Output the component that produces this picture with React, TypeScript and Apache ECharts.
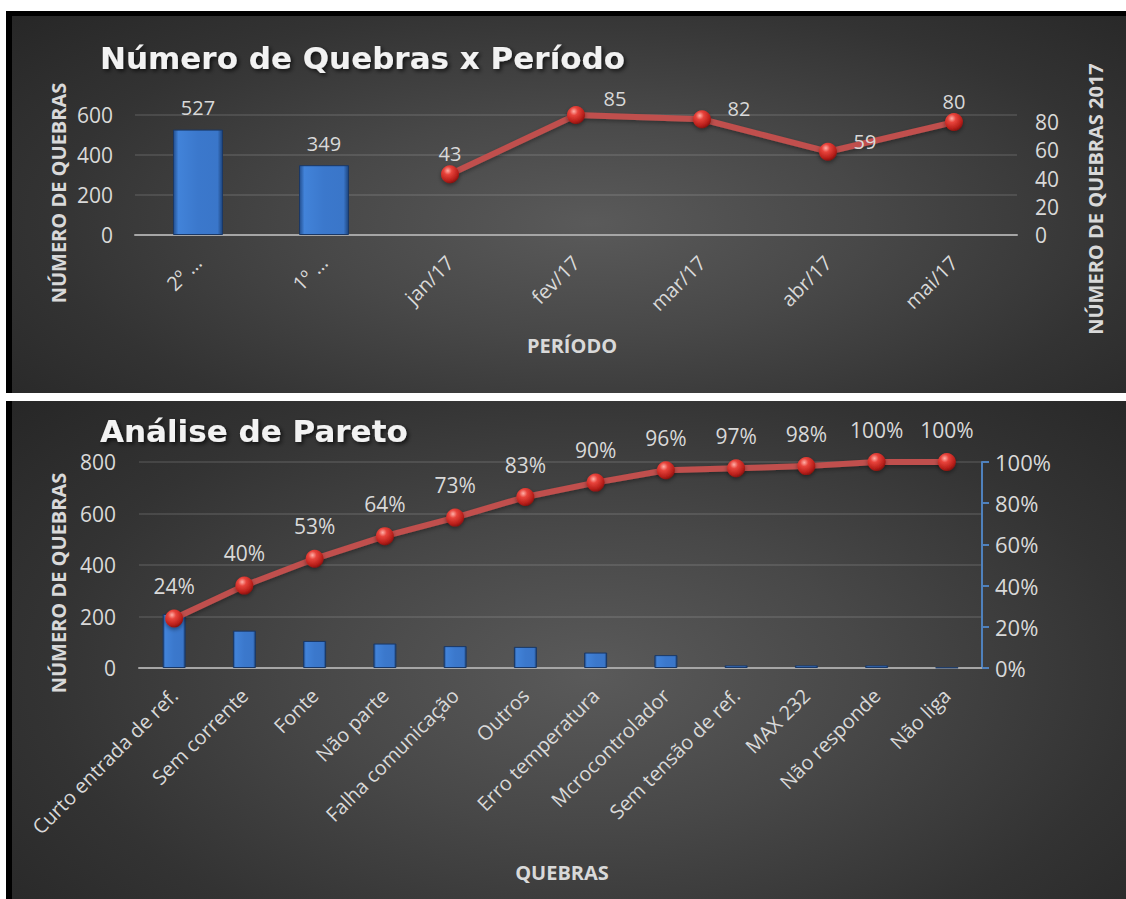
import React, { useEffect, useRef } from 'react';
import * as echarts from 'echarts';

// ---------- DATA ----------
const periodCategories = ['2º …', '1º …', 'jan/17', 'fev/17', 'mar/17', 'abr/17', 'mai/17'];
const semesterBreaks = [527, 349, null, null, null, null, null];
const monthlyBreaks2017 = [null, null, 43, 85, 82, 59, 80];

const paretoCategories = [
  'Curto entrada de ref.',
  'Sem corrente',
  'Fonte',
  'Não parte',
  'Falha comunicação',
  'Outros',
  'Erro temperatura',
  'Mcrocontrolador',
  'Sem tensão de ref.',
  'MAX 232',
  'Não responde',
  'Não liga',
];
const paretoCounts = [210, 145, 105, 95, 85, 82, 60, 50, 10, 10, 10, 2];
const paretoCumulativePct = [24, 40, 53, 64, 73, 83, 90, 96, 97, 98, 100, 100];

const titleTop = 'Número de Quebras x Período';
const titleBottom = 'Análise de Pareto';
const axisNameCount = 'NÚMERO DE QUEBRAS';
const axisNameCount2017 = 'NÚMERO DE QUEBRAS 2017';
const axisNamePeriod = 'PERÍODO';
const axisNameBreaks = 'QUEBRAS';

// ---------- STYLE ----------
const FONT = '"Open Sans", "Noto Sans", sans-serif';
const TITLE_FONT = '"DejaVu Sans", "Open Sans", sans-serif';
const LABEL_COLOR = '#d9d9d9';
const GRID_LINE = 'rgba(255,255,255,0.14)';

const barGradient = {
  type: 'linear', x: 0, y: 0, x2: 1, y2: 0,
  colorStops: [
    { offset: 0, color: '#234f8f' },
    { offset: 0.1, color: '#4283d9' },
    { offset: 0.5, color: '#3b78cc' },
    { offset: 0.9, color: '#3a76c9' },
    { offset: 1, color: '#1d447c' },
  ],
};
const sphere = {
  type: 'radial', x: 0.38, y: 0.3, r: 0.75,
  colorStops: [
    { offset: 0, color: '#ffb0a8' },
    { offset: 0.3, color: '#e8433b' },
    { offset: 0.75, color: '#b81f1a' },
    { offset: 1, color: '#7a0f0c' },
  ],
};

// label offsets for monthly points (style only)
const monthLabelOffsets: Record<number, number[]> = {
  3: [39, 4],
  4: [37, 10],
  5: [37, 11],
};

function axisTitle(text: string, x: number, y: number, rotate: boolean) {
  return {
    type: 'text',
    x,
    y,
    rotation: rotate ? Math.PI / 2 : 0,
    style: {
      text,
      fill: LABEL_COLOR,
      font: `bold 20px ${FONT}`,
      align: 'center',
      verticalAlign: 'middle',
    },
  };
}

function chartTitle(text: string, x: number, y: number) {
  return {
    type: 'text',
    x,
    y,
    style: {
      text,
      fill: '#f2f2f2',
      font: `bold 31px ${TITLE_FONT}`,
      align: 'left',
      verticalAlign: 'middle',
      textShadowColor: 'rgba(0,0,0,0.7)',
      textShadowBlur: 4,
      textShadowOffsetX: 2,
      textShadowOffsetY: 2,
    } as any,
  };
}

export default function App() {
  const ref = useRef<HTMLDivElement>(null);

  useEffect(() => {
    if (!ref.current) return;
    const chart = echarts.init(ref.current, undefined, { renderer: 'svg' });

    const xLabel = { rotate: 45, color: LABEL_COLOR, fontSize: 20, margin: 24, fontFamily: FONT, interval: 0 };

    const option: any = {
      animation: false,
      backgroundColor: 'transparent',
      textStyle: { fontFamily: FONT },
      grid: [
        { left: 135, top: 115, width: 882, height: 120 },
        { left: 139, top: 462, width: 843, height: 206 },
      ],
      xAxis: [
        {
          type: 'category',
          gridIndex: 0,
          data: periodCategories,
          axisLine: { lineStyle: { color: '#a6a6a6', width: 2 } },
          axisTick: { show: false },
          axisLabel: xLabel,
        },
        {
          type: 'category',
          gridIndex: 1,
          data: paretoCategories,
          axisLine: { lineStyle: { color: '#a6a6a6', width: 2 } },
          axisTick: { show: false },
          axisLabel: xLabel,
        },
      ],
      yAxis: [
        {
          type: 'value',
          gridIndex: 0,
          min: 0,
          max: 600,
          interval: 200,
          axisLine: { show: false },
          axisTick: { show: false },
          axisLabel: { color: LABEL_COLOR, fontSize: 21, margin: 22, fontFamily: FONT },
          splitLine: { lineStyle: { color: GRID_LINE, width: 1.5 } },
        },
        {
          type: 'value',
          gridIndex: 0,
          min: 0,
          max: 85,
          interval: 20,
          position: 'right',
          axisLine: { show: false },
          axisTick: { show: false },
          axisLabel: {
            color: LABEL_COLOR,
            fontSize: 21,
            margin: 18,
            fontFamily: FONT,
            formatter: (v: number) => (v % 20 === 0 ? String(v) : ''),
          },
          splitLine: { show: false },
        },
        {
          type: 'value',
          gridIndex: 1,
          min: 0,
          max: 800,
          interval: 200,
          axisLine: { show: false },
          axisTick: { show: false },
          axisLabel: { color: LABEL_COLOR, fontSize: 21, margin: 23, fontFamily: FONT },
          splitLine: { lineStyle: { color: GRID_LINE, width: 1.5 } },
        },
        {
          type: 'value',
          gridIndex: 1,
          min: 0,
          max: 100,
          interval: 20,
          position: 'right',
          axisLine: { show: true, lineStyle: { color: '#4f81bd', width: 2 } },
          axisTick: { show: true, length: 7, lineStyle: { color: '#4f81bd', width: 2 } },
          axisLabel: { color: LABEL_COLOR, fontSize: 22, margin: 13, fontFamily: FONT, formatter: '{value}%' },
          splitLine: { show: false },
        },
      ],
      series: [
        {
          type: 'bar',
          xAxisIndex: 0,
          yAxisIndex: 0,
          data: semesterBreaks,
          barWidth: 50,
          itemStyle: { color: barGradient, borderColor: '#1a3866', borderWidth: 1 },
          label: { show: true, position: 'top', distance: 12, color: LABEL_COLOR, fontSize: 20, fontFamily: FONT },
        },
        {
          type: 'line',
          xAxisIndex: 0,
          yAxisIndex: 1,
          data: monthlyBreaks2017.map((v, i) =>
            v == null
              ? null
              : {
                  value: v,
                  label: monthLabelOffsets[i] ? { offset: monthLabelOffsets[i] } : undefined,
                }
          ),
          symbol: 'circle',
          symbolSize: 18,
          lineStyle: { color: '#c0504d', width: 6, shadowColor: 'rgba(0,0,0,0.35)', shadowBlur: 4, shadowOffsetY: 2 },
          itemStyle: { color: sphere, shadowColor: 'rgba(0,0,0,0.4)', shadowBlur: 4, shadowOffsetY: 2 },
          label: { show: true, position: 'top', distance: 2, color: LABEL_COLOR, fontSize: 20, fontFamily: FONT },
          z: 3,
        },
        {
          type: 'bar',
          xAxisIndex: 1,
          yAxisIndex: 2,
          data: paretoCounts,
          barWidth: 23,
          itemStyle: { color: barGradient, borderColor: '#1a3866', borderWidth: 1 },
        },
        {
          type: 'line',
          xAxisIndex: 1,
          yAxisIndex: 3,
          data: paretoCumulativePct,
          symbol: 'circle',
          symbolSize: 18,
          lineStyle: { color: '#c0504d', width: 6, shadowColor: 'rgba(0,0,0,0.35)', shadowBlur: 4, shadowOffsetY: 2 },
          itemStyle: { color: sphere, shadowColor: 'rgba(0,0,0,0.4)', shadowBlur: 4, shadowOffsetY: 2 },
          label: { show: true, position: 'top', distance: 13, color: LABEL_COLOR, fontSize: 21, fontFamily: FONT, formatter: '{c}%' },
          z: 3,
        },
      ],
      graphic: [
        chartTitle(titleTop, 100, 58),
        chartTitle(titleBottom, 100, 431),
        axisTitle(axisNameCount, 58, 193, true),
        axisTitle(axisNameCount2017, 1095, 199, true),
        axisTitle(axisNamePeriod, 572, 345, false),
        axisTitle(axisNameCount, 58, 583, true),
        axisTitle(axisNameBreaks, 562, 872, false),
      ],
    };

    chart.setOption(option);
    return () => chart.dispose();
  }, []);

  const panelBg =
    'radial-gradient(ellipse 70% 85% at 52% 55%, #5a5a5a 0%, #484848 35%, #333333 70%, #262626 100%)';

  return (
    <div style={{ position: 'fixed', left: 0, top: 0, width: 1126, height: 899, background: '#ffffff', overflow: 'hidden' }}>
      <div
        style={{
          position: 'absolute', left: 6, top: 11, width: 1120, height: 382, boxSizing: 'border-box',
          borderTop: '5px solid #000', borderLeft: '6px solid #000', background: panelBg,
        }}
      />
      <div
        style={{
          position: 'absolute', left: 6, top: 401, width: 1120, height: 498, boxSizing: 'border-box',
          borderLeft: '6px solid #000', background: panelBg,
        }}
      />
      <div ref={ref} style={{ position: 'absolute', left: 0, top: 0, width: 1126, height: 899 }} />
    </div>
  );
}
